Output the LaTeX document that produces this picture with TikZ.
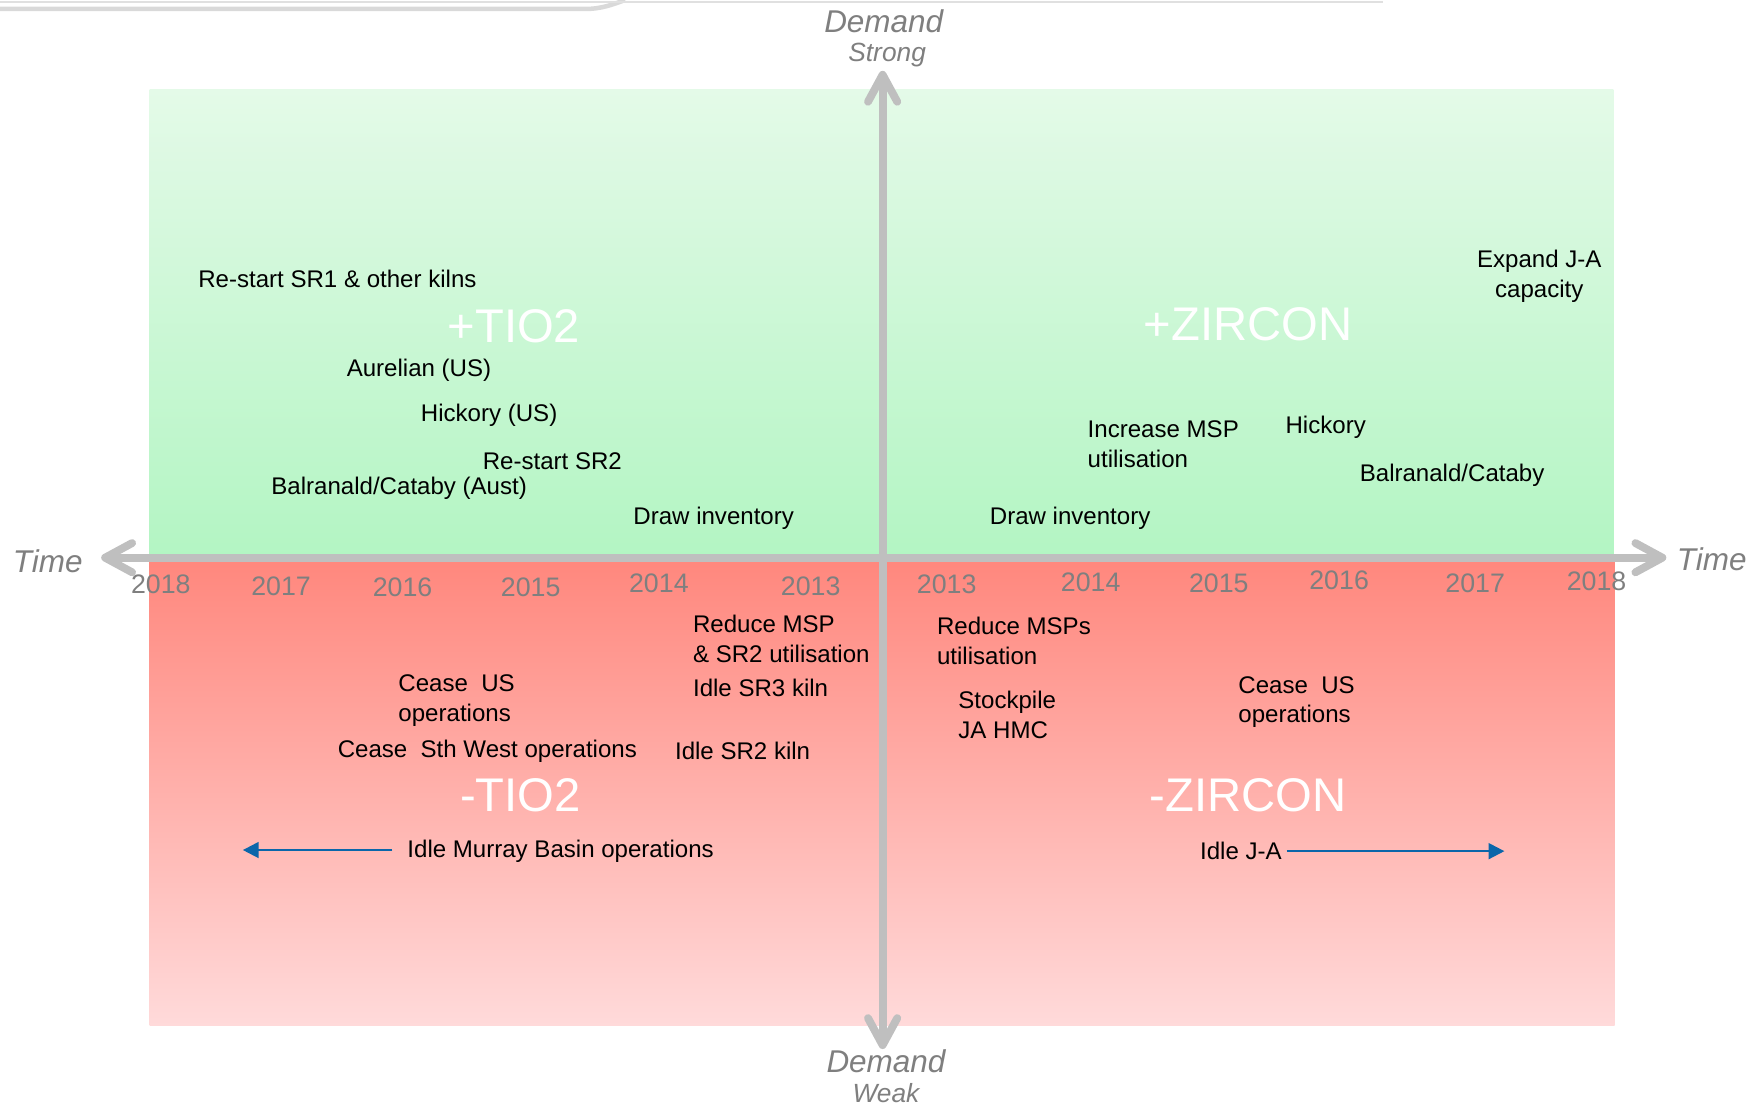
\documentclass[tikz,border=0pt]{standalone}
\usepackage{fontspec}
\setmainfont{Liberation Sans}
\usetikzlibrary{arrows.meta}
\definecolor{axgray}{HTML}{BFBFBF}
\definecolor{txtgray}{HTML}{7F7F7F}
\definecolor{gtop}{HTML}{E4FAE8}
\definecolor{gbot}{HTML}{B3F5C3}
\definecolor{rtop}{HTML}{FF877D}
\definecolor{rbot}{HTML}{FFDADA}
\definecolor{arblue}{HTML}{0A66AA}
\begin{document}
\begin{tikzpicture}[x=0.5pt,y=-0.5pt,
 lbl/.style={font=\fontsize{10.7}{13.25}\selectfont, inner sep=0pt, anchor=west, align=left},
 yr/.style={font=\fontsize{11.9}{14}\selectfont, text=txtgray, inner sep=0pt},
 big/.style={font=\fontsize{21}{25}\selectfont, text=white, inner sep=0pt},
 axlbl/.style={font=\fontsize{14}{16}\selectfont\itshape, text=txtgray, inner sep=0pt},
 sublbl/.style={font=\fontsize{11.7}{14}\selectfont\itshape, text=txtgray, inner sep=0pt},
 axisline/.style={draw=axgray, line width=3.5pt,
   {Straight Barb[length=12pt,width=13pt,round]}-{Straight Barb[length=12pt,width=13pt,round]}},
 idle/.style={draw=arblue, line width=1pt, -{Triangle[length=7pt,width=7pt]}}
]
\useasboundingbox (0,0) rectangle (1568,985);
% top frame remnant
\draw[line width=2pt, black!15] (0,8) -- (520,8) .. controls (535,8) and (545,4) .. (556,0);
\draw[line width=0.8pt, black!12] (0,2) -- (1230,2);
% quadrants
\fill[top color=gtop, bottom color=gbot] (133,79.5) rectangle (1435,495);
\fill[top color=rtop, bottom color=rbot] (133,497) rectangle (1436,912);
% axes
\coordinate (xl) at (90,496);
\coordinate (xr) at (1482,496);
\coordinate (yt) at (785,63);
\coordinate (yb) at (785,933);
\draw[axisline] (xl) -- (xr);
\draw[axisline] (yb) -- (yt);
% axis labels
\node[axlbl] (dtop) at (786,19) {Demand};
\node[sublbl] (strong) at (789,49) {Strong};
\node[axlbl] (dbot) at (788,944) {Demand};
\node[sublbl] (weak) at (788,972) {Weak};
\node[axlbl, anchor=west] (tleft) at (11,499) {Time};
\node[axlbl, anchor=west] (tright) at (1491,497) {Time};
% years left
\node[yr] (l18) at (143,520) {2018};
\node[yr] (l17) at (250,521) {2017};
\node[yr] (l16) at (358,522) {2016};
\node[yr] (l15) at (472,522) {2015};
\node[yr] (l14) at (586,519) {2014};
\node[yr] (l13) at (721,521) {2013};
% years right
\node[yr] (r13) at (842,520) {2013};
\node[yr] (r14) at (970,518) {2014};
\node[yr] (r15) at (1084,519) {2015};
\node[yr] (r16) at (1191,516) {2016};
\node[yr] (r17) at (1312,519) {2017};
\node[yr] (r18) at (1420,517) {2018};
% top-left
\node[lbl] (tl1) at (176,248) {Re-start SR1 \& other kilns};
\node[big] (tio2p) at (457,290) {+TIO2};
\node[lbl] (tl2) at (308,329) {Aurelian (US)};
\node[lbl] (tl3) at (374,369) {Hickory (US)};
\node[lbl] (tl4) at (429,410) {Re-start SR2};
\node[lbl] (tl5) at (241,434) {Balranald/Cataby (Aust)};
\node[lbl] (tl6) at (563,461) {Draw inventory};
% top-right
\node[lbl, align=center, anchor=center] (tr1) at (1369,245.5) {Expand J-A\\capacity};
\node[big] (zirp) at (1110,288) {+ZIRCON};
\node[lbl] (tr2) at (967,395) {Increase MSP\\utilisation};
\node[lbl] (tr3) at (1143,380) {Hickory};
\node[lbl] (tr4) at (1209,423) {Balranald/Cataby};
\node[lbl] (tr5) at (880,461) {Draw inventory};
% bottom-left
\node[lbl] (bl1) at (616,568.5) {Reduce MSP\\\& SR2 utilisation};
\node[lbl] (bl2) at (616,612) {Idle SR3 kiln};
\node[lbl] (bl3) at (354,623) {Cease\ \ US\\operations};
\node[lbl] (bl4) at (300,668) {Cease\ \ Sth West operations};
\node[lbl] (bl5) at (600,668) {Idle SR2 kiln};
\node[big] (tio2m) at (463,707) {-TIO2};
\node[lbl] (bl6) at (362,757) {Idle Murray Basin operations};
\coordinate (murrayend) at (216,756);
\draw[idle] ([xshift=-6.5pt,yshift=0.5pt]bl6.west) -- (murrayend);
% bottom-right
\node[lbl] (br1) at (833,570) {Reduce MSPs\\utilisation};
\node[lbl] (br2) at (852,636) {Stockpile\\JA HMC};
\node[lbl] (br3) at (1101,624.5) {Cease\ \ US\\operations};
\node[big] (zirm) at (1110,707) {-ZIRCON};
\node[lbl] (br4) at (1067,757) {Idle J-A};
\coordinate (jaend) at (1338,757);
\draw[idle] ([xshift=2pt]br4.east) -- (jaend);
\end{tikzpicture}
\end{document}
